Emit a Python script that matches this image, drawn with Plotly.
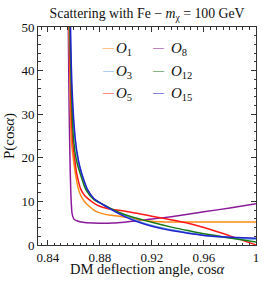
import plotly.graph_objects as go

# ---- data ----
labels = ["1", "3", "5", "8", "12", "15"]
colors = ["#ff8c1a", "#6aaee0", "#ff1a1a", "#8b1a9b", "#1a7a1a", "#2222cc"]

o1_x = [0.8555, 0.8563, 0.8572, 0.858, 0.860, 0.8612, 0.8637, 0.866, 0.8693, 0.873, 0.877, 0.882, 0.887, 0.895, 0.902, 0.91, 0.92, 0.93, 0.94, 0.96, 0.98, 1.0]
o1_y = [80, 50, 35, 24.2, 19, 16.5, 12.7, 11.0, 9.6, 8.6, 7.7, 7.2, 6.9, 6.6, 6.3, 5.8, 5.45, 5.3, 5.25, 5.25, 5.25, 5.25]

o3_x = [0.8562, 0.8572, 0.8585, 0.8609, 0.8632, 0.8657, 0.8703, 0.8754, 0.8857, 0.8946, 0.90, 0.91, 0.92, 0.935, 0.9477, 0.96, 0.97, 0.985, 1.0]
o3_y = [80, 50, 35, 24.2, 19.5, 16.5, 12.7, 10.6, 8.7, 7.3, 6.6, 5.4, 4.5, 3.5, 2.85, 2.25, 1.9, 1.5, 1.3]

o5_x = [0.8558, 0.8567, 0.8577, 0.859, 0.861, 0.8622, 0.8655, 0.8685, 0.8718, 0.876, 0.88, 0.885, 0.89, 0.895, 0.90, 0.92, 0.9477, 0.96, 0.98, 1.0]
o5_y = [80, 50, 35, 24.2, 19, 16.5, 12.7, 11.3, 10.4, 9.5, 8.9, 8.45, 8.15, 7.95, 7.75, 6.6, 5.0, 4.0, 2.1, 0.0]

o8_x = [0.8552, 0.8558, 0.8565, 0.8572, 0.858, 0.8587, 0.860, 0.862, 0.864, 0.867, 0.87, 0.88, 0.89, 0.90, 0.91, 0.92, 0.935, 0.9477, 0.96, 0.98, 1.0]
o8_y = [80, 50, 30, 18, 10, 7.2, 6.0, 5.6, 5.4, 5.2, 5.1, 5.0, 5.05, 5.3, 5.6, 5.95, 6.5, 7.05, 7.6, 8.5, 9.45]

o12_x = [0.856, 0.857, 0.8582, 0.8598, 0.862, 0.8648, 0.8693, 0.8756, 0.8857, 0.8946, 0.90, 0.91, 0.92, 0.935, 0.9477, 0.96, 0.97, 0.985, 1.0]
o12_y = [80, 50, 35, 24.2, 19.5, 16.5, 12.7, 10.4, 8.8, 7.5, 6.9, 6.0, 5.2, 4.1, 3.3, 2.6, 2.1, 1.4, 0.7]

o15_x = [0.8565, 0.8575, 0.8588, 0.8612, 0.8635, 0.866, 0.8706, 0.8756, 0.8857, 0.8946, 0.90, 0.91, 0.92, 0.935, 0.9477, 0.96, 0.97, 0.985, 1.0]
o15_y = [80, 50, 35, 24.2, 19.5, 16.5, 12.7, 10.6, 8.7, 7.2, 6.4, 5.2, 4.3, 3.3, 2.7, 2.2, 1.95, 1.7, 1.55]

xs = [o1_x, o3_x, o5_x, o8_x, o12_x, o15_x]
ys = [o1_y, o3_y, o5_y, o8_y, o12_y, o15_y]

x_tickvals = [0.84, 0.88, 0.92, 0.96, 1.0]
x_ticktext = ["0.84", "0.88", "0.92", "0.96", "1"]
y_tickvals = [0, 10, 20, 30, 40, 50]

FONT = "Liberation Serif, Times New Roman, serif"
INK = "#111"

fig = go.Figure()
draw_order = [3, 0, 2, 1, 4, 5]
for i in draw_order:
    fig.add_trace(go.Scatter(
        x=xs[i], y=ys[i], mode="lines",
        line=dict(color=colors[i], width=1.5, shape="spline", smoothing=0.6),
        name="O" + labels[i], showlegend=False, hoverinfo="skip"))

# legend drawn as text keys (two columns, like the reference)
col_dash_x = [0.29, 0.52]
col_text_x = [0.352, 0.604]
row_y = [0.908, 0.803, 0.702]
for i, lab in enumerate(labels):
    c, r = divmod(i, 3)
    fig.add_annotation(x=col_dash_x[c], y=row_y[r], xref="paper", yref="paper",
                       text="\u2014", showarrow=False, xanchor="left", yanchor="middle",
                       borderpad=0, font=dict(family=FONT, size=11, color=colors[i]))
    fig.add_annotation(x=col_text_x[c], y=row_y[r] - 0.008, xref="paper", yref="paper",
                       text="<i>O</i><sub>" + lab + "</sub>", showarrow=False,
                       xanchor="left", yanchor="middle", borderpad=0,
                       font=dict(family=FONT, size=15, color=INK))

# x-axis title placed as in the reference
fig.add_annotation(x=0.5, y=-0.112, xref="paper", yref="paper",
                   text="DM deflection angle, cos<i>α</i>", showarrow=False,
                   xanchor="center", yanchor="middle",
                   font=dict(family=FONT, size=14.5, color=INK))

axis_common = dict(showline=True, linecolor="#333", linewidth=1, mirror="ticks",
                   ticks="inside", ticklen=5, tickcolor="#333", tickwidth=1,
                   showgrid=False, zeroline=False, ticklabeloverflow="allow",
                   tickfont=dict(family=FONT, size=13, color=INK))

fig.update_xaxes(range=[0.8325, 1.00005], tickvals=x_tickvals, ticktext=x_ticktext,
                 minor=dict(dtick=0.005, ticklen=2.5, ticks="inside", tickcolor="#333"),
                 **axis_common)
fig.update_yaxes(range=[0, 50], tickvals=y_tickvals,
                 minor=dict(dtick=2, ticklen=2.5, ticks="inside", tickcolor="#333"),
                 title=dict(text="P(cos<i>α</i>)", standoff=3,
                            font=dict(family=FONT, size=15, color=INK)),
                 **axis_common)

fig.update_layout(
    width=266, height=284,
    margin=dict(l=38, r=7, t=27, b=39),
    paper_bgcolor="white", plot_bgcolor="white",
    title=dict(text="Scattering with Fe \u2212 <i>m</i><sub>χ</sub> = 100 GeV",
               x=0.553, xanchor="center", y=0.955, yanchor="middle",
               font=dict(family=FONT, size=13.8, color=INK)),
    showlegend=False,
)

fig.write_html("out.html", config={"displayModeBar": False},
               post_script="document.body.style.margin='0';")
